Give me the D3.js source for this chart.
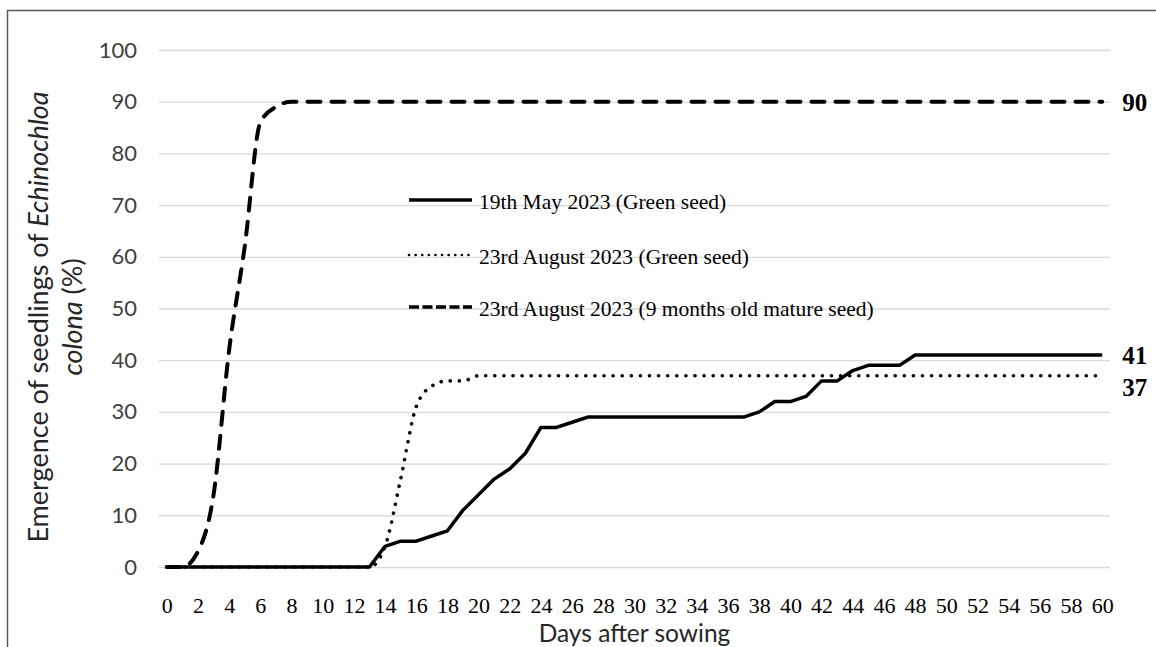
<!DOCTYPE html>
<html>
<head>
<meta charset="utf-8">
<script src="https://cdn.jsdelivr.net/npm/d3@7/dist/d3.min.js"></script>
<style>
  body { margin: 0; background: #fff; }
  svg { display: block; }
</style>
</head>
<body>
<div id="chart"></div>
<script>
// days after sowing (categories) and labelled ticks
const days = d3.range(0, 61);
const xTickDays = d3.range(0, 61, 2);
const yTicks = [0, 10, 20, 30, 40, 50, 60, 70, 80, 90, 100];

// emergence (%) per day
const may19Green = [
  0, 0, 0, 0, 0, 0, 0, 0, 0, 0, 0, 0, 0, 0,
  4, 5, 5, 6, 7, 11, 14, 17, 19, 22, 27, 27, 28, 29,
  29, 29, 29, 29, 29, 29, 29, 29, 29, 29,
  30, 32, 32, 33, 36, 36, 38, 39, 39, 39, 41,
  41, 41, 41, 41, 41, 41, 41, 41, 41, 41, 41, 41
];
const aug23Green = [
  0, 0, 0, 0, 0, 0, 0, 0, 0, 0, 0, 0, 0, 0,
  4, 17, 31, 35, 36, 36,
  37, 37, 37, 37, 37, 37, 37, 37, 37, 37, 37, 37, 37, 37, 37, 37, 37, 37, 37, 37,
  37, 37, 37, 37, 37, 37, 37, 37, 37, 37, 37, 37, 37, 37, 37, 37, 37, 37, 37, 37, 37
];
const aug23Mature = [
  0, 0, 3, 14, 42, 62, 86, 89,
  90, 90, 90, 90, 90, 90, 90, 90, 90, 90, 90, 90, 90, 90, 90, 90, 90, 90, 90, 90, 90, 90,
  90, 90, 90, 90, 90, 90, 90, 90, 90, 90, 90, 90, 90, 90, 90, 90, 90, 90, 90, 90, 90, 90, 90,
  90, 90, 90, 90, 90, 90, 90, 90
];
const seriesNames = [
  '19th May 2023 (Green seed)',
  '23rd August 2023 (Green seed)',
  '23rd August 2023 (9 months old mature seed)'
];

(function() {
  'use strict';

  const W = 1156, H = 647;
  const plot = { left: 159, right: 1110, top: 50, bottom: 567 };

  const series = [
    { name: seriesNames[0], values: may19Green, curve: d3.curveLinear,
      width: 3.5, dash: null, cap: 'butt', labelDy: 0,
      legendDash: null, legendWidth: 3.5, legendCap: 'butt' },
    { name: seriesNames[1], values: aug23Green, curve: d3.curveMonotoneX,
      width: 3.6, dash: '0.1,9', cap: 'round', labelDy: 12,
      legendDash: '0.1,6.5', legendWidth: 2.6, legendCap: 'round' },
    { name: seriesNames[2], values: aug23Mature, curve: d3.curveMonotoneX,
      width: 4, dash: '13,11', cap: 'round', labelDy: 1,
      legendDash: '10,3.5', legendWidth: 3.5, legendCap: 'butt' }
  ];

  const svg = d3.select('#chart').append('svg')
    .attr('width', W)
    .attr('height', H);

  svg.append('rect').attr('width', W).attr('height', H).attr('fill', '#fff');

  // chart-area border (only top/left show in the crop)
  svg.append('rect')
    .attr('x', 7.5).attr('y', 10.5)
    .attr('width', W + 40).attr('height', H + 40)
    .attr('fill', 'none')
    .attr('stroke', '#595959')
    .attr('stroke-width', 1.5);

  const x = d3.scalePoint()
    .domain(days)
    .range([plot.left, plot.right])
    .padding(0.5);

  const y = d3.scaleLinear()
    .domain([0, 100])
    .range([plot.bottom, plot.top]);

  // gridlines
  svg.append('g')
    .attr('transform', `translate(${plot.left},0)`)
    .call(d3.axisLeft(y).tickValues(yTicks).tickSize(-(plot.right - plot.left)).tickFormat(''))
    .call(g => g.select('.domain').remove())
    .call(g => g.selectAll('line').attr('stroke', '#d9d9d9').attr('stroke-width', 1.3));

  // y tick labels
  svg.append('g')
    .attr('transform', `translate(${plot.left - 22},0)`)
    .call(d3.axisLeft(y).tickValues(yTicks).tickSize(0).tickPadding(0))
    .call(g => g.select('.domain').remove())
    .call(g => g.selectAll('text')
      .attr('font-family', 'Lato, "Open Sans", sans-serif')
      .attr('font-size', '22px')
      .attr('fill', '#404040'));

  // x tick labels
  svg.append('g')
    .attr('transform', `translate(0,${plot.bottom})`)
    .call(d3.axisBottom(x).tickValues(xTickDays).tickSize(0).tickPadding(30))
    .call(g => g.select('.domain').remove())
    .call(g => g.selectAll('text')
      .attr('font-family', '"Liberation Serif", "Times New Roman", serif')
      .attr('font-size', '22px')
      .attr('fill', '#000'));

  // axis titles
  svg.append('text')
    .attr('x', (plot.left + plot.right) / 2)
    .attr('y', 642)
    .attr('text-anchor', 'middle')
    .attr('font-family', 'Lato, "Open Sans", sans-serif')
    .attr('font-size', '24.5px')
    .attr('fill', '#262626')
    .text('Days after sowing');

  const yTitle = svg.append('text')
    .attr('transform', 'translate(48,317) rotate(-90)')
    .attr('text-anchor', 'middle')
    .attr('font-family', 'Lato, "Open Sans", sans-serif')
    .attr('font-size', '27px')
    .attr('fill', '#262626');
  yTitle.append('tspan').text('Emergence of seedlings of ');
  yTitle.append('tspan').attr('font-style', 'italic').text('Echinochloa');

  const yTitle2 = svg.append('text')
    .attr('transform', 'translate(82,317) rotate(-90)')
    .attr('text-anchor', 'middle')
    .attr('font-family', 'Lato, "Open Sans", sans-serif')
    .attr('font-size', '27px')
    .attr('fill', '#262626');
  yTitle2.append('tspan').attr('font-style', 'italic').text('colona');
  yTitle2.append('tspan').text(' (%)');

  // series lines
  series.forEach(s => {
    const line = d3.line()
      .x((d, i) => x(days[i]))
      .y(d => y(d))
      .curve(s.curve);

    svg.append('path')
      .datum(s.values)
      .attr('d', line)
      .attr('fill', 'none')
      .attr('stroke', '#000')
      .attr('stroke-width', s.width)
      .attr('stroke-linecap', s.cap)
      .attr('stroke-linejoin', 'round')
      .attr('stroke-dasharray', s.dash);

    // end-of-line value label
    const last = s.values[s.values.length - 1];
    svg.append('text')
      .attr('x', x(days[days.length - 1]) + 20)
      .attr('y', y(last) + s.labelDy)
      .attr('dy', '0.35em')
      .attr('font-family', '"Liberation Serif", "Times New Roman", serif')
      .attr('font-weight', 'bold')
      .attr('font-size', '25px')
      .attr('fill', '#000')
      .text(last);
  });

  // legend
  const legend = svg.append('g').attr('transform', 'translate(409,200)');
  series.forEach((s, i) => {
    const row = legend.append('g').attr('transform', `translate(0,${i === 0 ? 0 : i === 1 ? 55 : 107})`);
    row.append('line')
      .attr('x1', 0).attr('x2', 63)
      .attr('y1', 0).attr('y2', 0)
      .attr('stroke', '#000')
      .attr('stroke-width', s.legendWidth)
      .attr('stroke-linecap', s.legendCap)
      .attr('stroke-dasharray', s.legendDash);
    row.append('text')
      .attr('x', 70)
      .attr('y', 1)
      .attr('dy', '0.35em')
      .attr('font-family', '"Liberation Serif", "Times New Roman", serif')
      .attr('font-size', '21.5px')
      .attr('fill', '#000')
      .text(s.name);
  });
})();
</script>
</body>
</html>
